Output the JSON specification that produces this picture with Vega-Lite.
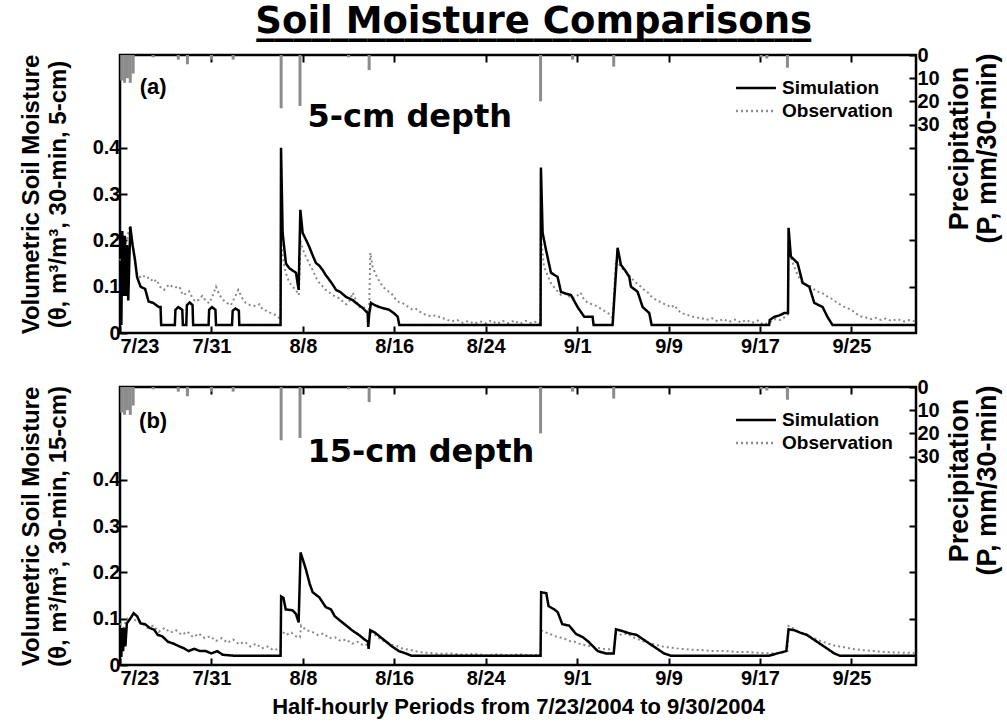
{
  "$schema": "https://vega.github.io/schema/vega-lite/v6.json",
  "background": "white",
  "padding": {"left": 17, "top": 2, "right": 2, "bottom": 2},
  "title": {"text": "Soil Moisture Comparisons", "subtitle": "______________________________", "font": "DejaVu Sans", "fontSize": 37, "fontWeight": "bold", "color": "black", "subtitleFont": "DejaVu Sans", "subtitleFontSize": 37, "subtitleFontWeight": "bold", "subtitleColor": "black", "subtitlePadding": -37, "anchor": "middle", "offset": 3, "dx": 24},
  "spacing": 17,
  "datasets": {
    "labels": [
      {"panel": "a", "tag": "(a)", "depth": "5-cm depth"},
      {"panel": "b", "tag": "(b)", "depth": "15-cm depth"}
    ],
    "rain": [
      {"day": 0.15, "precip": 11}, {"day": 0.4, "precip": 12}, {"day": 0.65, "precip": 10}, {"day": 0.9, "precip": 12}, {"day": 1.15, "precip": 8},
      {"day": 2.9, "precip": 1}, {"day": 5.1, "precip": 2}, {"day": 5.9, "precip": 4}, {"day": 8.0, "precip": 2}, {"day": 9.9, "precip": 2},
      {"day": 14.1, "precip": 23}, {"day": 15.75, "precip": 22}, {"day": 20.0, "precip": 1}, {"day": 21.8, "precip": 6.5},
      {"day": 36.8, "precip": 20}, {"day": 39.6, "precip": 2}, {"day": 43.2, "precip": 5}, {"day": 56.1, "precip": 1}, {"day": 56.6, "precip": 1.5}, {"day": 58.4, "precip": 5.5}
    ],
    "simA": [
      {"day":0,"theta":0.02},{"day":0.12,"theta":0.02},{"day":0.2,"theta":0.22},{"day":0.3,"theta":0.08},{"day":0.42,"theta":0.21},{"day":0.52,"theta":0.08},{"day":0.62,"theta":0.19},{"day":0.72,"theta":0.07},{"day":0.9,"theta":0.23},{"day":1.1,"theta":0.19},{"day":1.3,"theta":0.16},{"day":1.5,"theta":0.12},{"day":1.8,"theta":0.1},{"day":2.2,"theta":0.095},{"day":2.5,"theta":0.068},{"day":2.9,"theta":0.065},{"day":3.4,"theta":0.056},{"day":3.55,"theta":0.056},{"day":3.6,"theta":0.017},{"day":4.8,"theta":0.017},{"day":4.85,"theta":0.05},{"day":5.1,"theta":0.056},{"day":5.45,"theta":0.05},{"day":5.5,"theta":0.017},{"day":5.8,"theta":0.017},{"day":5.85,"theta":0.06},{"day":6.1,"theta":0.066},{"day":6.35,"theta":0.06},{"day":6.4,"theta":0.017},{"day":7.75,"theta":0.017},{"day":7.8,"theta":0.05},{"day":8.05,"theta":0.056},{"day":8.35,"theta":0.05},{"day":8.4,"theta":0.017},{"day":9.8,"theta":0.017},{"day":9.86,"theta":0.048},{"day":10.1,"theta":0.053},{"day":10.4,"theta":0.048},{"day":10.44,"theta":0.017},{"day":14.05,"theta":0.017},{"day":14.09,"theta":0.4},{"day":14.23,"theta":0.216},{"day":14.52,"theta":0.15},{"day":14.81,"theta":0.14},{"day":15.1,"theta":0.135},{"day":15.4,"theta":0.13},{"day":15.63,"theta":0.093},{"day":15.78,"theta":0.266},{"day":15.98,"theta":0.216},{"day":16.3,"theta":0.2},{"day":16.56,"theta":0.186},{"day":16.9,"theta":0.165},{"day":17.15,"theta":0.151},{"day":17.45,"theta":0.145},{"day":17.73,"theta":0.136},{"day":18.0,"theta":0.125},{"day":18.31,"theta":0.115},{"day":18.6,"theta":0.105},{"day":18.9,"theta":0.093},{"day":19.3,"theta":0.088},{"day":19.77,"theta":0.078},{"day":20.36,"theta":0.071},{"day":20.8,"theta":0.062},{"day":21.23,"theta":0.054},{"day":21.67,"theta":0.043},{"day":21.72,"theta":0.013},{"day":21.8,"theta":0.04},{"day":21.96,"theta":0.065},{"day":22.3,"theta":0.06},{"day":22.69,"theta":0.056},{"day":23.1,"theta":0.053},{"day":23.56,"theta":0.05},{"day":24.0,"theta":0.042},{"day":24.3,"theta":0.035},{"day":24.44,"theta":0.017},{"day":36.8,"theta":0.017},{"day":36.83,"theta":0.357},{"day":36.98,"theta":0.216},{"day":37.27,"theta":0.18},{"day":37.71,"theta":0.13},{"day":38.29,"theta":0.121},{"day":38.58,"theta":0.089},{"day":39.0,"theta":0.085},{"day":39.46,"theta":0.082},{"day":40.04,"theta":0.056},{"day":40.62,"theta":0.035},{"day":41.35,"theta":0.035},{"day":41.44,"theta":0.017},{"day":43.1,"theta":0.017},{"day":43.54,"theta":0.184},{"day":43.83,"theta":0.147},{"day":44.2,"theta":0.135},{"day":44.56,"theta":0.121},{"day":44.71,"theta":0.1},{"day":45.29,"theta":0.089},{"day":45.73,"theta":0.056},{"day":46.31,"theta":0.043},{"day":46.52,"theta":0.017},{"day":56.8,"theta":0.017},{"day":56.85,"theta":0.028},{"day":57.25,"theta":0.035},{"day":57.7,"theta":0.038},{"day":58.12,"theta":0.043},{"day":58.45,"theta":0.043},{"day":58.5,"theta":0.227},{"day":58.7,"theta":0.165},{"day":59.29,"theta":0.151},{"day":59.73,"theta":0.108},{"day":60.31,"theta":0.1},{"day":60.75,"theta":0.065},{"day":61.48,"theta":0.056},{"day":61.9,"theta":0.035},{"day":62.35,"theta":0.017},{"day":69.65,"theta":0.017}
    ],
    "obsA": [
      {"day":0,"theta":0.16},{"day":0.2,"theta":0.15},{"day":0.4,"theta":0.18},{"day":0.6,"theta":0.2},{"day":0.85,"theta":0.23},{"day":1.0,"theta":0.21},{"day":1.2,"theta":0.17},{"day":1.45,"theta":0.13},{"day":1.7,"theta":0.12},{"day":2.0,"theta":0.125},{"day":2.3,"theta":0.118},{"day":2.6,"theta":0.12},{"day":2.9,"theta":0.11},{"day":3.2,"theta":0.115},{"day":3.5,"theta":0.1},{"day":3.85,"theta":0.093},{"day":4.3,"theta":0.105},{"day":4.7,"theta":0.098},{"day":5.2,"theta":0.1},{"day":5.5,"theta":0.082},{"day":5.8,"theta":0.085},{"day":6.05,"theta":0.09},{"day":6.35,"theta":0.075},{"day":6.6,"theta":0.068},{"day":6.9,"theta":0.072},{"day":7.2,"theta":0.08},{"day":7.5,"theta":0.07},{"day":7.8,"theta":0.064},{"day":8.1,"theta":0.08},{"day":8.4,"theta":0.1},{"day":8.7,"theta":0.082},{"day":9.0,"theta":0.072},{"day":9.35,"theta":0.065},{"day":9.7,"theta":0.06},{"day":10.0,"theta":0.075},{"day":10.35,"theta":0.093},{"day":10.7,"theta":0.075},{"day":11.0,"theta":0.065},{"day":11.4,"theta":0.06},{"day":11.9,"theta":0.058},{"day":12.2,"theta":0.062},{"day":12.5,"theta":0.05},{"day":12.8,"theta":0.048},{"day":13.1,"theta":0.044},{"day":13.5,"theta":0.04},{"day":13.9,"theta":0.033},{"day":14.05,"theta":0.032},{"day":14.1,"theta":0.195},{"day":14.3,"theta":0.155},{"day":14.5,"theta":0.13},{"day":14.8,"theta":0.11},{"day":15.1,"theta":0.1},{"day":15.4,"theta":0.093},{"day":15.65,"theta":0.082},{"day":15.8,"theta":0.2},{"day":16.0,"theta":0.18},{"day":16.27,"theta":0.165},{"day":16.55,"theta":0.15},{"day":16.86,"theta":0.136},{"day":17.15,"theta":0.12},{"day":17.45,"theta":0.108},{"day":17.75,"theta":0.1},{"day":18.0,"theta":0.093},{"day":18.3,"theta":0.088},{"day":18.6,"theta":0.082},{"day":18.9,"theta":0.078},{"day":19.2,"theta":0.075},{"day":19.5,"theta":0.068},{"day":19.8,"theta":0.062},{"day":20.1,"theta":0.07},{"day":20.36,"theta":0.087},{"day":20.65,"theta":0.07},{"day":20.95,"theta":0.056},{"day":21.25,"theta":0.058},{"day":21.5,"theta":0.05},{"day":21.8,"theta":0.045},{"day":21.9,"theta":0.173},{"day":22.1,"theta":0.143},{"day":22.4,"theta":0.125},{"day":22.7,"theta":0.112},{"day":23.0,"theta":0.1},{"day":23.3,"theta":0.093},{"day":23.6,"theta":0.088},{"day":23.86,"theta":0.082},{"day":24.15,"theta":0.072},{"day":24.44,"theta":0.066},{"day":24.7,"theta":0.065},{"day":25.0,"theta":0.06},{"day":25.3,"theta":0.055},{"day":25.6,"theta":0.05},{"day":25.9,"theta":0.052},{"day":26.3,"theta":0.045},{"day":26.7,"theta":0.04},{"day":27.2,"theta":0.036},{"day":27.6,"theta":0.038},{"day":28.1,"theta":0.033},{"day":28.5,"theta":0.03},{"day":29.0,"theta":0.025},{"day":29.5,"theta":0.028},{"day":30.0,"theta":0.022},{"day":30.5,"theta":0.026},{"day":31.0,"theta":0.02},{"day":31.5,"theta":0.025},{"day":32.0,"theta":0.021},{"day":32.5,"theta":0.027},{"day":33.0,"theta":0.02},{"day":33.5,"theta":0.026},{"day":34.0,"theta":0.021},{"day":34.5,"theta":0.027},{"day":35.0,"theta":0.02},{"day":35.5,"theta":0.026},{"day":36.0,"theta":0.021},{"day":36.5,"theta":0.025},{"day":36.78,"theta":0.02},{"day":36.83,"theta":0.207},{"day":37.1,"theta":0.143},{"day":37.4,"theta":0.125},{"day":37.7,"theta":0.108},{"day":38.1,"theta":0.095},{"day":38.6,"theta":0.082},{"day":39.0,"theta":0.085},{"day":39.5,"theta":0.075},{"day":39.9,"theta":0.078},{"day":40.3,"theta":0.087},{"day":40.6,"theta":0.072},{"day":40.9,"theta":0.066},{"day":41.3,"theta":0.062},{"day":41.8,"theta":0.057},{"day":42.2,"theta":0.05},{"day":42.7,"theta":0.043},{"day":43.1,"theta":0.033},{"day":43.4,"theta":0.158},{"day":43.83,"theta":0.143},{"day":44.1,"theta":0.135},{"day":44.4,"theta":0.13},{"day":44.7,"theta":0.12},{"day":45.0,"theta":0.112},{"day":45.3,"theta":0.105},{"day":45.6,"theta":0.1},{"day":45.9,"theta":0.092},{"day":46.2,"theta":0.087},{"day":46.45,"theta":0.08},{"day":46.7,"theta":0.075},{"day":47.0,"theta":0.07},{"day":47.3,"theta":0.067},{"day":47.6,"theta":0.063},{"day":47.9,"theta":0.06},{"day":48.2,"theta":0.055},{"day":48.5,"theta":0.06},{"day":48.8,"theta":0.05},{"day":49.1,"theta":0.043},{"day":49.5,"theta":0.04},{"day":50.0,"theta":0.036},{"day":50.4,"theta":0.033},{"day":50.8,"theta":0.033},{"day":51.3,"theta":0.028},{"day":51.8,"theta":0.032},{"day":52.3,"theta":0.025},{"day":52.8,"theta":0.03},{"day":53.3,"theta":0.024},{"day":53.8,"theta":0.029},{"day":54.3,"theta":0.023},{"day":54.8,"theta":0.028},{"day":55.3,"theta":0.022},{"day":55.8,"theta":0.027},{"day":56.3,"theta":0.018},{"day":56.8,"theta":0.022},{"day":57.3,"theta":0.03},{"day":57.8,"theta":0.028},{"day":58.2,"theta":0.035},{"day":58.45,"theta":0.04},{"day":58.5,"theta":0.186},{"day":58.75,"theta":0.16},{"day":59.0,"theta":0.143},{"day":59.3,"theta":0.125},{"day":59.6,"theta":0.112},{"day":60.0,"theta":0.105},{"day":60.5,"theta":0.1},{"day":60.9,"theta":0.09},{"day":61.4,"theta":0.087},{"day":61.8,"theta":0.08},{"day":62.2,"theta":0.075},{"day":62.6,"theta":0.068},{"day":63.1,"theta":0.06},{"day":63.5,"theta":0.055},{"day":64.0,"theta":0.05},{"day":64.4,"theta":0.042},{"day":64.8,"theta":0.036},{"day":65.2,"theta":0.034},{"day":65.7,"theta":0.03},{"day":66.1,"theta":0.033},{"day":66.6,"theta":0.028},{"day":67.0,"theta":0.031},{"day":67.5,"theta":0.026},{"day":68.0,"theta":0.03},{"day":68.6,"theta":0.025},{"day":69.1,"theta":0.028},{"day":69.65,"theta":0.025}
    ],
    "simB": [
      {"day":0,"theta":0.02},{"day":0.12,"theta":0.02},{"day":0.17,"theta":0.08},{"day":0.27,"theta":0.03},{"day":0.37,"theta":0.08},{"day":0.47,"theta":0.04},{"day":0.6,"theta":0.09},{"day":0.9,"theta":0.1},{"day":1.2,"theta":0.112},{"day":1.5,"theta":0.105},{"day":1.8,"theta":0.09},{"day":2.2,"theta":0.088},{"day":2.6,"theta":0.08},{"day":3.0,"theta":0.076},{"day":3.3,"theta":0.065},{"day":3.7,"theta":0.062},{"day":4.2,"theta":0.05},{"day":4.7,"theta":0.046},{"day":5.2,"theta":0.04},{"day":5.6,"theta":0.036},{"day":6.0,"theta":0.03},{"day":6.5,"theta":0.035},{"day":7.0,"theta":0.03},{"day":7.5,"theta":0.03},{"day":8.0,"theta":0.025},{"day":8.5,"theta":0.03},{"day":9.0,"theta":0.022},{"day":10.0,"theta":0.02},{"day":14.05,"theta":0.02},{"day":14.1,"theta":0.148},{"day":14.3,"theta":0.145},{"day":14.5,"theta":0.12},{"day":15.1,"theta":0.118},{"day":15.4,"theta":0.11},{"day":15.63,"theta":0.092},{"day":15.8,"theta":0.243},{"day":16.27,"theta":0.206},{"day":16.6,"theta":0.175},{"day":16.86,"theta":0.157},{"day":17.44,"theta":0.146},{"day":18.0,"theta":0.125},{"day":18.46,"theta":0.12},{"day":18.8,"theta":0.105},{"day":19.3,"theta":0.095},{"day":19.8,"theta":0.085},{"day":20.3,"theta":0.075},{"day":20.9,"theta":0.065},{"day":21.4,"theta":0.055},{"day":21.7,"theta":0.05},{"day":21.75,"theta":0.035},{"day":21.9,"theta":0.075},{"day":22.3,"theta":0.07},{"day":22.8,"theta":0.06},{"day":23.3,"theta":0.05},{"day":23.8,"theta":0.04},{"day":24.4,"theta":0.03},{"day":25.0,"theta":0.025},{"day":25.5,"theta":0.02},{"day":36.8,"theta":0.02},{"day":36.85,"theta":0.157},{"day":37.3,"theta":0.155},{"day":37.5,"theta":0.127},{"day":38.0,"theta":0.12},{"day":38.3,"theta":0.114},{"day":38.7,"theta":0.088},{"day":39.3,"theta":0.085},{"day":39.9,"theta":0.067},{"day":40.5,"theta":0.06},{"day":41.0,"theta":0.05},{"day":41.4,"theta":0.04},{"day":41.8,"theta":0.03},{"day":42.5,"theta":0.025},{"day":43.2,"theta":0.025},{"day":43.4,"theta":0.077},{"day":44.0,"theta":0.073},{"day":44.6,"theta":0.068},{"day":45.2,"theta":0.065},{"day":45.8,"theta":0.055},{"day":46.4,"theta":0.045},{"day":47.0,"theta":0.035},{"day":47.6,"theta":0.025},{"day":48.2,"theta":0.02},{"day":56.8,"theta":0.02},{"day":57.5,"theta":0.025},{"day":58.3,"theta":0.03},{"day":58.5,"theta":0.077},{"day":59.0,"theta":0.075},{"day":59.5,"theta":0.07},{"day":60.1,"theta":0.065},{"day":60.7,"theta":0.055},{"day":61.3,"theta":0.045},{"day":61.9,"theta":0.035},{"day":62.5,"theta":0.025},{"day":63.0,"theta":0.02},{"day":69.65,"theta":0.02}
    ],
    "obsB": [
      {"day":0,"theta":0.09},{"day":0.3,"theta":0.08},{"day":0.6,"theta":0.1},{"day":1.0,"theta":0.105},{"day":1.4,"theta":0.095},{"day":1.9,"theta":0.09},{"day":2.4,"theta":0.08},{"day":2.9,"theta":0.085},{"day":3.4,"theta":0.072},{"day":3.9,"theta":0.08},{"day":4.4,"theta":0.07},{"day":4.9,"theta":0.075},{"day":5.4,"theta":0.065},{"day":5.9,"theta":0.072},{"day":6.4,"theta":0.06},{"day":6.9,"theta":0.068},{"day":7.4,"theta":0.058},{"day":7.9,"theta":0.062},{"day":8.4,"theta":0.052},{"day":8.9,"theta":0.058},{"day":9.4,"theta":0.048},{"day":9.9,"theta":0.055},{"day":10.4,"theta":0.045},{"day":10.9,"theta":0.05},{"day":11.4,"theta":0.04},{"day":11.9,"theta":0.046},{"day":12.4,"theta":0.036},{"day":12.9,"theta":0.04},{"day":13.4,"theta":0.032},{"day":13.9,"theta":0.035},{"day":14.05,"theta":0.03},{"day":14.1,"theta":0.075},{"day":14.5,"theta":0.065},{"day":15.0,"theta":0.07},{"day":15.5,"theta":0.06},{"day":15.75,"theta":0.06},{"day":15.85,"theta":0.085},{"day":16.3,"theta":0.075},{"day":16.8,"theta":0.072},{"day":17.3,"theta":0.065},{"day":17.8,"theta":0.068},{"day":18.3,"theta":0.058},{"day":18.8,"theta":0.06},{"day":19.3,"theta":0.052},{"day":19.8,"theta":0.055},{"day":20.3,"theta":0.046},{"day":20.8,"theta":0.05},{"day":21.3,"theta":0.042},{"day":21.8,"theta":0.045},{"day":21.9,"theta":0.07},{"day":22.3,"theta":0.065},{"day":22.8,"theta":0.055},{"day":23.3,"theta":0.05},{"day":23.8,"theta":0.044},{"day":24.3,"theta":0.04},{"day":24.8,"theta":0.035},{"day":25.5,"theta":0.032},{"day":26.2,"theta":0.028},{"day":27.0,"theta":0.026},{"day":28.0,"theta":0.024},{"day":29.0,"theta":0.025},{"day":30.0,"theta":0.022},{"day":31.0,"theta":0.024},{"day":32.0,"theta":0.021},{"day":33.0,"theta":0.023},{"day":34.0,"theta":0.021},{"day":35.0,"theta":0.023},{"day":36.0,"theta":0.021},{"day":36.8,"theta":0.022},{"day":36.85,"theta":0.075},{"day":37.3,"theta":0.07},{"day":37.8,"theta":0.065},{"day":38.3,"theta":0.06},{"day":38.8,"theta":0.058},{"day":39.3,"theta":0.052},{"day":39.8,"theta":0.05},{"day":40.3,"theta":0.045},{"day":40.8,"theta":0.042},{"day":41.3,"theta":0.04},{"day":41.8,"theta":0.037},{"day":42.3,"theta":0.035},{"day":42.8,"theta":0.034},{"day":43.2,"theta":0.035},{"day":43.4,"theta":0.068},{"day":43.9,"theta":0.065},{"day":44.4,"theta":0.068},{"day":44.9,"theta":0.06},{"day":45.4,"theta":0.055},{"day":45.9,"theta":0.05},{"day":46.4,"theta":0.047},{"day":47.0,"theta":0.043},{"day":47.5,"theta":0.04},{"day":48.0,"theta":0.038},{"day":49.0,"theta":0.035},{"day":50.0,"theta":0.033},{"day":51.0,"theta":0.032},{"day":52.0,"theta":0.03},{"day":53.0,"theta":0.03},{"day":54.0,"theta":0.028},{"day":55.0,"theta":0.028},{"day":56.0,"theta":0.026},{"day":57.0,"theta":0.025},{"day":58.0,"theta":0.027},{"day":58.4,"theta":0.03},{"day":58.5,"theta":0.084},{"day":59.0,"theta":0.078},{"day":59.5,"theta":0.07},{"day":60.0,"theta":0.066},{"day":60.5,"theta":0.06},{"day":61.0,"theta":0.055},{"day":61.5,"theta":0.05},{"day":62.0,"theta":0.046},{"day":62.5,"theta":0.042},{"day":63.0,"theta":0.04},{"day":64.0,"theta":0.035},{"day":65.0,"theta":0.032},{"day":66.0,"theta":0.03},{"day":67.0,"theta":0.028},{"day":68.0,"theta":0.027},{"day":69.65,"theta":0.026}
    ]
  },
  "vconcat": [
    {
      "width": 796, "height": 278,
      "layer": [
        {
          "data": {"name": "rain"},
          "mark": {"type": "rule", "color": "#8c8c8c", "strokeWidth": 3},
          "encoding": {
            "x": {"field": "day", "type": "quantitative", "scale": {"domain": [0, 69.65], "nice": false, "zero": false}, "axis": {"orient": "top", "values": [8, 16, 24, 32, 40, 48, 56, 64], "labels": false, "title": null}},
            "y": {"field": "precip", "type": "quantitative", "scale": {"domain": [0, 120], "reverse": true, "nice": false}, "axis": {"orient": "right", "values": [0, 10, 20, 30, 40, 60, 80, 100], "labelExpr": "datum.value <= 30 ? datum.label : ''", "labelPadding": 8, "title": ["Precipitation", "(P, mm/30-min)"], "titleAngle": 270, "titleFontSize": 27, "titleLineHeight": 28, "titlePadding": 6, "titleY": 93, "titleAlign": "center"}},
            "y2": {"datum": 0}
          }
        },
        {
          "layer": [
            {"data": {"name": "obsA"}, "mark": {"type": "line", "strokeWidth": 2},
             "encoding": {
               "x": {"field": "day", "type": "quantitative", "scale": {"domain": [0, 69.65], "nice": false, "zero": false}, "axis": {"orient": "bottom", "values": [0, 8, 16, 24, 32, 40, 48, 56, 64], "labelExpr": "['7/23','7/31','8/8','8/16','8/24','9/1','9/9','9/17','9/25'][round(datum.value/8)]", "labelPadding": 10, "title": null}},
               "y": {"field": "theta", "type": "quantitative", "scale": {"domain": [0, 0.6], "nice": false}, "axis": {"orient": "left", "values": [0, 0.1, 0.2, 0.3, 0.4], "format": ".1~f", "labelPadding": 7, "title": ["Volumetric Soil Moisture", "(θ, m³/m³, 30-min, 5-cm)"], "titleFontSize": 24, "titleLineHeight": 27, "titlePadding": 22}},
               "color": {"datum": "Observation", "type": "nominal", "scale": {"domain": ["Simulation", "Observation"], "range": ["black", "#8a8a8a"]}, "legend": {"title": null, "orient": "none", "legendX": 624, "legendY": 21}},
               "strokeDash": {"datum": "Observation", "type": "nominal", "scale": {"domain": ["Simulation", "Observation"], "range": [[1, 0], [2, 3]]}, "legend": {"title": null, "orient": "none", "legendX": 624, "legendY": 21}}
             }},
            {"data": {"name": "simA"}, "mark": {"type": "line", "strokeWidth": 2.5},
             "encoding": {
               "x": {"field": "day", "type": "quantitative"},
               "y": {"field": "theta", "type": "quantitative"},
               "color": {"datum": "Simulation", "type": "nominal"},
               "strokeDash": {"datum": "Simulation", "type": "nominal"}
             }},
            {"data": {"name": "labels"}, "transform": [{"filter": "datum.panel == 'a'"}],
             "mark": {"type": "text", "font": "Liberation Sans", "fontWeight": "bold", "fontSize": 22, "align": "center", "baseline": "middle", "color": "black"},
             "encoding": {"x": {"datum": 2.9, "type": "quantitative"}, "y": {"datum": 0.53, "type": "quantitative"}, "text": {"field": "tag"}}},
            {"data": {"name": "labels"}, "transform": [{"filter": "datum.panel == 'a'"}],
             "mark": {"type": "text", "font": "DejaVu Sans", "fontWeight": "bold", "fontSize": 32, "align": "left", "baseline": "middle", "color": "black"},
             "encoding": {"x": {"datum": 16.4, "type": "quantitative"}, "y": {"datum": 0.466, "type": "quantitative"}, "text": {"field": "depth"}}}
          ]
        }
      ],
      "resolve": {"scale": {"y": "independent"}, "axis": {"x": "independent", "y": "independent"}}
    },
    {
      "width": 796, "height": 278,
      "layer": [
        {
          "data": {"name": "rain"},
          "mark": {"type": "rule", "color": "#8c8c8c", "strokeWidth": 3},
          "encoding": {
            "x": {"field": "day", "type": "quantitative", "scale": {"domain": [0, 69.65], "nice": false, "zero": false}, "axis": {"orient": "top", "values": [8, 16, 24, 32, 40, 48, 56, 64], "labels": false, "title": null}},
            "y": {"field": "precip", "type": "quantitative", "scale": {"domain": [0, 120], "reverse": true, "nice": false}, "axis": {"orient": "right", "values": [0, 10, 20, 30, 40, 60, 80, 100], "labelExpr": "datum.value <= 30 ? datum.label : ''", "labelPadding": 8, "title": ["Precipitation", "(P, mm/30-min)"], "titleAngle": 270, "titleFontSize": 27, "titleLineHeight": 28, "titlePadding": 6, "titleY": 93, "titleAlign": "center"}},
            "y2": {"datum": 0}
          }
        },
        {
          "layer": [
            {"data": {"name": "obsB"}, "mark": {"type": "line", "strokeWidth": 2},
             "encoding": {
               "x": {"field": "day", "type": "quantitative", "scale": {"domain": [0, 69.65], "nice": false, "zero": false}, "axis": {"orient": "bottom", "values": [0, 8, 16, 24, 32, 40, 48, 56, 64], "labelExpr": "['7/23','7/31','8/8','8/16','8/24','9/1','9/9','9/17','9/25'][round(datum.value/8)]", "labelPadding": 10, "title": "Half-hourly Periods from 7/23/2004 to 9/30/2004", "titleFontSize": 22, "titlePadding": 8}},
               "y": {"field": "theta", "type": "quantitative", "scale": {"domain": [0, 0.6], "nice": false}, "axis": {"orient": "left", "values": [0, 0.1, 0.2, 0.3, 0.4], "format": ".1~f", "labelPadding": 7, "title": ["Volumetric Soil Moisture", "(θ, m³/m³, 30-min, 15-cm)"], "titleFontSize": 24, "titleLineHeight": 27, "titlePadding": 22}},
               "color": {"datum": "Observation", "type": "nominal", "scale": {"domain": ["Simulation", "Observation"], "range": ["black", "#8a8a8a"]}, "legend": {"title": null, "orient": "none", "legendX": 624, "legendY": 21}},
               "strokeDash": {"datum": "Observation", "type": "nominal", "scale": {"domain": ["Simulation", "Observation"], "range": [[1, 0], [2, 3]]}, "legend": {"title": null, "orient": "none", "legendX": 624, "legendY": 21}}
             }},
            {"data": {"name": "simB"}, "mark": {"type": "line", "strokeWidth": 2.5},
             "encoding": {
               "x": {"field": "day", "type": "quantitative"},
               "y": {"field": "theta", "type": "quantitative"},
               "color": {"datum": "Simulation", "type": "nominal"},
               "strokeDash": {"datum": "Simulation", "type": "nominal"}
             }},
            {"data": {"name": "labels"}, "transform": [{"filter": "datum.panel == 'b'"}],
             "mark": {"type": "text", "font": "Liberation Sans", "fontWeight": "bold", "fontSize": 22, "align": "center", "baseline": "middle", "color": "black"},
             "encoding": {"x": {"datum": 2.9, "type": "quantitative"}, "y": {"datum": 0.527, "type": "quantitative"}, "text": {"field": "tag"}}},
            {"data": {"name": "labels"}, "transform": [{"filter": "datum.panel == 'b'"}],
             "mark": {"type": "text", "font": "DejaVu Sans", "fontWeight": "bold", "fontSize": 32, "align": "left", "baseline": "middle", "color": "black"},
             "encoding": {"x": {"datum": 16.4, "type": "quantitative"}, "y": {"datum": 0.46, "type": "quantitative"}, "text": {"field": "depth"}}}
          ]
        }
      ],
      "resolve": {"scale": {"y": "independent"}, "axis": {"x": "independent", "y": "independent"}}
    }
  ],
  "resolve": {"scale": {"color": "independent", "strokeDash": "independent"}, "legend": {"color": "independent", "strokeDash": "independent"}},
  "config": {
    "view": {"stroke": "black", "strokeWidth": 2.5},
    "axis": {"grid": false, "domain": false, "tickColor": "black", "tickWidth": 2, "tickSize": -7, "labelFont": "Liberation Sans", "labelFontWeight": "bold", "labelFontSize": 20, "labelColor": "black", "titleFont": "Liberation Sans", "titleFontWeight": "bold", "titleColor": "black"},
    "legend": {"symbolType": "M-1.9,0H1.9", "symbolSize": 441, "symbolStrokeWidth": 2.5, "labelFont": "Liberation Sans", "labelFontWeight": "bold", "labelFontSize": 19, "labelColor": "black", "rowPadding": 1, "padding": 0, "labelOffset": 14}
  }
}
